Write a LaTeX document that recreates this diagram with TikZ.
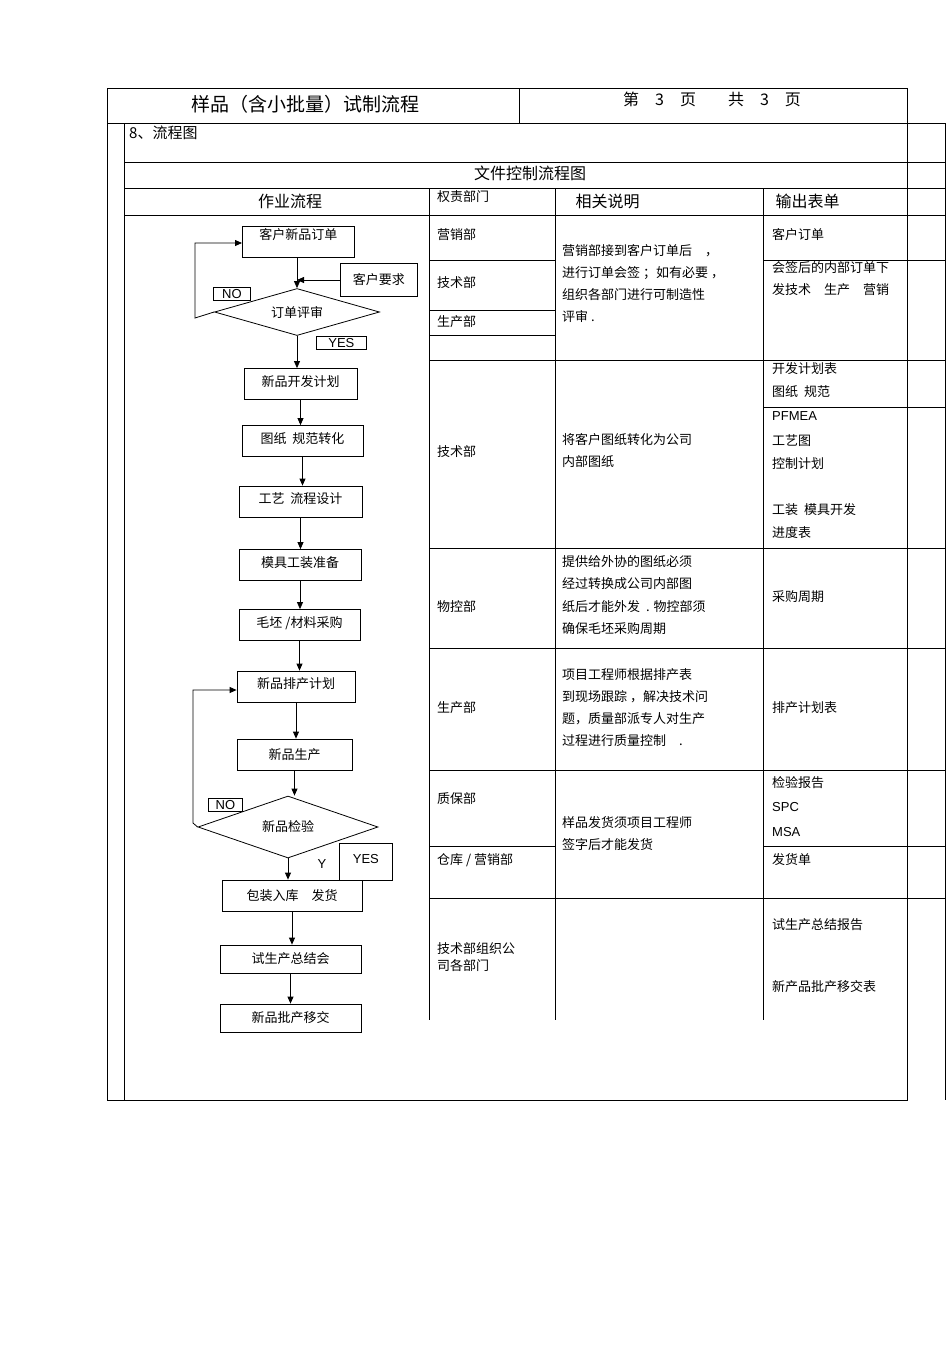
\documentclass[tikz,border=0pt]{standalone}
\usepackage{fontspec}
\setmainfont{Liberation Sans}
\newfontfamily\cjk{Noto Sans CJK SC}
\usetikzlibrary{shapes.geometric,arrows.meta}
\begin{document}
\begin{tikzpicture}[x=1pt,y=-1pt,
  txt/.style={font=\cjk\fontsize{13}{17}\selectfont,anchor=north west,inner sep=0pt,align=left},
  bx/.style={draw,thick,minimum width=#1,minimum height=31,inner sep=2pt,font=\cjk\fontsize{13}{16}\selectfont},
  tag/.style={draw,thick,font=\fontsize{13}{15}\selectfont,anchor=north west,inner sep=2pt},
  arr/.style={-{Triangle[length=7pt,width=6pt]},thick},
  dia/.style={draw,thick,diamond,aspect=3,font=\cjk\fontsize{13}{16}\selectfont,inner sep=0pt}]
\useasboundingbox (0,0) rectangle (950,1345);
% table
\draw[thick] (107,88) rectangle (907,1100);
\draw[thick] (107,123) -- (945,123);
\draw (519,88) -- (519,123);
\draw (124,123) -- (124,1100);
\draw (124,162) -- (945,162);
\draw (124,188) -- (945,188);
\draw (124,215) -- (945,215);
\draw (945,123) -- (945,1100);
\foreach \x in {429,555,763} \draw (\x,188) -- (\x,1020);
\draw (429,260) -- (555,260) (763,260) -- (945,260);
\draw (429,310) -- (555,310) (429,335) -- (555,335);
\foreach \y in {360,548,648,770,898} \draw (429,\y) -- (945,\y);
\draw (763,407) -- (945,407);
\draw (429,846) -- (555,846) (763,846) -- (945,846);
% header text
\node[font=\cjk\fontsize{19}{22}\selectfont] (title) at (305,104) {样品（含小批量）试制流程};
\node[font=\cjk\fontsize{16}{20}\selectfont] (page) at (712,99) {第\quad 3\quad 页\qquad 共\quad 3\quad 页};
\node[txt,font=\cjk\fontsize{15}{18}\selectfont] (s8) at (129,126) {8、流程图};
\node[font=\cjk\fontsize{16}{19}\selectfont] (fc) at (530,173) {文件控制流程图};
\node[font=\cjk\fontsize{16}{19}\selectfont] (h1) at (290,201) {作业流程};
\node[txt] (h2) at (437,190) {权责部门};
\node[font=\cjk\fontsize{16}{19}\selectfont,anchor=west] (h3) at (572,201) {相关说明};
\node[font=\cjk\fontsize{16}{19}\selectfont,anchor=west] (h4) at (772,201) {输出表单};
% dept column
\node[txt] (d1) at (437,228) {营销部};
\node[txt] (d2) at (437,276) {技术部};
\node[txt] (d3) at (437,315) {生产部};
\node[txt] (d4) at (437,445) {技术部};
\node[txt] (d5) at (437,600) {物控部};
\node[txt] (d6) at (437,701) {生产部};
\node[txt] (d7) at (437,792) {质保部};
\node[txt] (d8) at (437,853) {仓库 / 营销部};
\node[txt] (d9) at (437,942) {技术部组织公\\司各部门};
% explanation
\node[txt,font=\cjk\fontsize{13}{22}\selectfont] (e1) at (562,244) {营销部接到客户订单后\quad ，\\进行订单会签 ；如有必要 ，\\组织各部门进行可制造性\\评审 .};
\node[txt,font=\cjk\fontsize{13}{22}\selectfont] (e2) at (562,433) {将客户图纸转化为公司\\内部图纸};
\node[txt,font=\cjk\fontsize{13}{22.5}\selectfont] (e3) at (562,555) {提供给外协的图纸必须\\经过转换成公司内部图\\纸后才能外发\ \ . 物控部须\\确保毛坯采购周期};
\node[txt,font=\cjk\fontsize{13}{22}\selectfont] (e4) at (562,668) {项目工程师根据排产表\\到现场跟踪 ，解决技术问\\题，质量部派专人对生产\\过程进行质量控制\quad .};
\node[txt,font=\cjk\fontsize{13}{22}\selectfont] (e5) at (562,816) {样品发货须项目工程师\\签字后才能发货};
% outputs
\node[txt] (o1) at (772,228) {客户订单};
\node[txt,font=\cjk\fontsize{13}{22}\selectfont] (o2) at (772,261) {会签后的内部订单下\\发技术\quad 生产\quad 营销};
\node[txt,font=\cjk\fontsize{13}{23}\selectfont] (o3) at (772,362) {开发计划表\\图纸\ \ 规范};
\node[txt,font=\fontsize{13}{16}\selectfont] (o4) at (772,411) {PFMEA};
\node[txt,font=\cjk\fontsize{13}{23}\selectfont] (o5) at (772,434) {工艺图\\控制计划};
\node[txt,font=\cjk\fontsize{13}{23}\selectfont] (o6) at (772,503) {工装\ \ 模具开发\\进度表};
\node[txt] (o7) at (772,590) {采购周期};
\node[txt] (o8) at (772,701) {排产计划表};
\node[txt] (o9) at (772,776) {检验报告};
\node[txt,font=\fontsize{13}{16}\selectfont] (o10) at (772,802) {SPC};
\node[txt,font=\fontsize{13}{16}\selectfont] (o11) at (772,827) {MSA};
\node[txt] (o12) at (772,853) {发货单};
\node[txt] (o13) at (772,918) {试生产总结报告};
\node[txt] (o14) at (772,980) {新产品批产移交表};
% flow
\node[bx=112,text height=12,anchor=north west,align=left] (n1) at (242,226) {\raisebox{8pt}{客户新品订单}};
\node[draw,thick,anchor=north west,minimum width=77,minimum height=33,inner sep=3pt,font=\cjk\fontsize{13}{16}\selectfont] (req) at (340,263) {客户要求};
\node[dia,minimum width=165,minimum height=47] (r1) at (297,312) {订单评审};
\node[tag,minimum width=37] (no1) at (213,287) {NO};
\node[tag,minimum width=50] (yes1) at (316,336) {YES};
\node[bx=113] (n2) at (300.5,384) {\raisebox{6pt}{新品开发计划}};
\node[bx=121] (n3) at (302.5,441) {\raisebox{6pt}{图纸\ \ 规范转化}};
\node[bx=123] (n4) at (300.5,501.5) {\raisebox{6pt}{工艺\ \ 流程设计}};
\node[bx=122] (n5) at (300,565) {\raisebox{6pt}{模具工装准备}};
\node[bx=121] (n6) at (299.5,625) {\raisebox{6pt}{毛坯 /材料采购}};
\node[bx=118] (n7) at (296,686.5) {\raisebox{6pt}{新品排产计划}};
\node[bx=115] (n8) at (294.5,754.5) {新品生产};
\node[dia,minimum width=180,minimum height=62] (r2) at (288,827) {新品检验};
\node[tag,minimum width=34] (no2) at (208,798) {NO};
\node[tag,minimum width=53,minimum height=37,anchor=north west] (yes2) at (339,843) {\raisebox{6pt}{YES}};
\node[font=\fontsize{13}{15}\selectfont] (y2) at (322,864) {Y};
\node[bx=140] (n9) at (292,895.5) {包装入库\quad 发货};
\node[bx=141,minimum height=28] (n10) at (290.5,959) {试生产总结会};
\node[bx=141,minimum height=28] (n11) at (290.5,1018) {新品批产移交};
% arrows
\draw[arr] (297,258) -- (r1.north);
\coordinate (j1) at (297,280);
\draw[arr] (req.west |- j1) -- (j1);
\draw[arr] (r1.south) -- (n2.north -| r1.south);
\draw[arr] (n2.south) -- (n3.north -| n2.south);
\draw[arr] (n3.south) -- (n4.north -| n3.south);
\draw[arr] (n4.south) -- (n5.north -| n4.south);
\draw[arr] (n5.south) -- (n6.north -| n5.south);
\draw[arr] (n6.south) -- (n7.north -| n6.south);
\draw[arr] (n7.south) -- (n8.north -| n7.south);
\draw[arr] (n8.south) -- (r2.north -| n8.south);
\draw[arr] (r2.south) -- (n9.north -| r2.south);
\draw[arr] (n9.south) -- (n10.north -| n9.south);
\draw[arr] (n10.south) -- (n11.north -| n10.south);
\coordinate (l1) at (195,318);
\draw[arr] (r1.west) -- (l1) |- (n1.west |- 0,243);
\coordinate (l2) at (193,823);
\draw[arr] (r2.west) -- (l2) |- (n7.west |- 0,690);
\end{tikzpicture}
\end{document}
